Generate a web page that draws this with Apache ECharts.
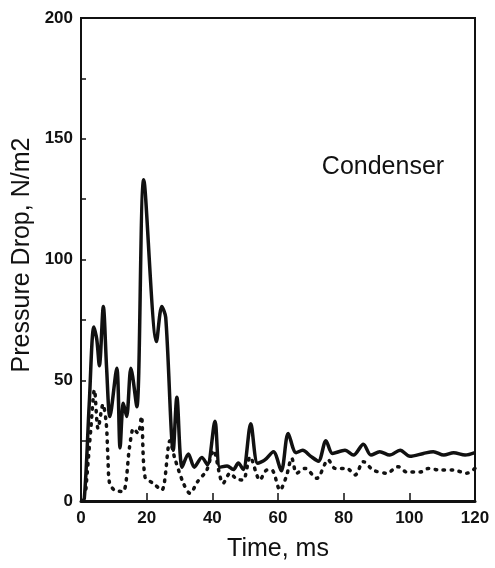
<!DOCTYPE html>
<html>
<head>
<meta charset="utf-8">
<script src="https://cdn.jsdelivr.net/npm/echarts@6/dist/echarts.min.js"></script>
<style>
  html, body { margin: 0; padding: 0; background: #fff; }
  #chart { width: 495px; height: 568px; }
</style>
</head>
<body>
<div id="chart"></div>
<script>
// Pressure drop history in the condenser: upper (solid) and lower (dotted) traces
const solidTime = [0, 1, 2.5, 3.9, 4.8, 5.6, 6.8, 7.8, 8.8, 10.9, 11.9, 12.9, 13.9, 15.2, 17, 19.1, 23, 24.6, 25.8, 28.1, 29.2, 30.8, 32.7, 34.5, 36.8, 38.5, 40.8, 42.3, 44.5, 46.4, 47.9, 49.4, 51.7, 53.8, 56, 58.6, 61, 63.1, 65.5, 67.5, 70, 72.3, 74.6, 76.6, 80.4, 83, 86, 88.3, 91, 94, 97.2, 100.2, 104.3, 107.3, 110.5, 113.5, 117, 120];
const solidDrop = [0, 1, 40, 72, 67, 56, 80.5, 55, 35, 55, 22, 40.5, 35, 55, 39, 133, 66, 80.5, 76, 21, 43, 14, 19.5, 14, 18, 15, 33, 14, 14.5, 13, 15.7, 13, 32, 15.6, 17, 20.4, 12.5, 28, 20, 21, 18.5, 16.5, 25, 19.7, 21, 19, 23.5, 19, 20.4, 19, 21, 18.5, 19.7, 20.4, 19, 20, 19, 20];

const dottedTime = [1.5, 3, 4.1, 5.2, 6.7, 7.7, 8.2, 8.7, 10.2, 12.8, 14.8, 16, 17.4, 18.4, 19.5, 22, 24.6, 27.1, 28.5, 31.2, 33.2, 35.5, 38.3, 40.3, 43.3, 45.4, 47.5, 49.4, 51.5, 54.5, 56.6, 58.1, 60.6, 62.5, 64.2, 65.7, 68.2, 71.8, 75.3, 77.4, 80.9, 83.5, 86, 89, 93.1, 96.6, 99.2, 103.3, 105.8, 109.4, 113.4, 117.5, 120];
const dottedDrop = [5, 30, 46, 30, 40, 32, 18, 7.4, 4.5, 3.9, 22.5, 30, 28, 35, 10, 7.3, 4.5, 25, 18, 7.3, 3.2, 8, 12.8, 21, 7.3, 11.5, 9, 8.7, 18.3, 8.7, 12.8, 12.8, 4.5, 10, 17.7, 11.5, 13.5, 9.4, 17, 13.5, 13.5, 10.8, 16.3, 12.8, 11.5, 14.2, 12, 12, 13.5, 12.8, 12.8, 11.5, 13.5];

const timeTicks = [0, 20, 40, 60, 80, 100, 120];
const dropTickLabels = [0, 50, 100, 150, 200];

const pairs = (xs, ys) => xs.map((x, i) => [x, ys[i]]);
const FONT = '"Liberation Sans", Arial, Helvetica, sans-serif';

const chart = echarts.init(document.getElementById('chart'), null, { renderer: 'canvas' });
chart.setOption({
  animation: false,
  backgroundColor: '#fff',
  grid: {
    left: 81, right: 20, top: 18, bottom: 67,
    show: true, borderColor: '#111', borderWidth: 2, backgroundColor: 'transparent'
  },
  xAxis: {
    type: 'value',
    min: timeTicks[0], max: timeTicks[timeTicks.length - 1], interval: 20,
    axisLine: { show: true, onZero: false, lineStyle: { color: '#111', width: 3 } },
    axisTick: { show: true, inside: true, length: 8, lineStyle: { color: '#111', width: 1.5 } },
    splitLine: { show: false },
    axisLabel: {
      margin: 9, color: '#111', fontFamily: FONT, fontSize: 17, fontWeight: 'bold',
      formatter: v => timeTicks.includes(v) ? String(v) : ''
    }
  },
  yAxis: {
    type: 'value',
    min: 0, max: 200, interval: 25,
    axisLine: { show: true, onZero: false, lineStyle: { color: '#111', width: 2 } },
    axisTick: { show: true, inside: true, length: 5, lineStyle: { color: '#111', width: 1.5 } },
    splitLine: { show: false },
    axisLabel: {
      margin: 8, color: '#111', fontFamily: FONT, fontSize: 17, fontWeight: 'bold',
      formatter: v => dropTickLabels.includes(v) ? String(v) : ''
    }
  },
  graphic: [
    {
      type: 'text', x: 22, y: 255, rotation: Math.PI / 2,
      style: {
        text: 'Pressure Drop, N/m2', fill: '#111', font: '25px ' + FONT,
        textAlign: 'center', textVerticalAlign: 'middle'
      }
    },
    {
      type: 'text', x: 278, y: 549,
      style: {
        text: 'Time, ms', fill: '#111', font: '25px ' + FONT,
        textAlign: 'center', textVerticalAlign: 'middle'
      }
    },
    {
      type: 'text', x: 383, y: 167,
      style: {
        text: 'Condenser', fill: '#111', font: '25px ' + FONT,
        textAlign: 'center', textVerticalAlign: 'middle'
      }
    }
  ],
  series: [
    {
      type: 'line', data: pairs(solidTime, solidDrop), smooth: 0.3,
      showSymbol: false, clip: true,
      lineStyle: { color: '#111', width: 3.5, type: 'solid' }
    },
    {
      type: 'line', data: pairs(dottedTime, dottedDrop), smooth: 0.3,
      showSymbol: false, clip: true,
      lineStyle: { color: '#111', width: 3.5, type: [1.5, 6.5], cap: 'round' }
    }
  ]
});
</script>
</body>
</html>
